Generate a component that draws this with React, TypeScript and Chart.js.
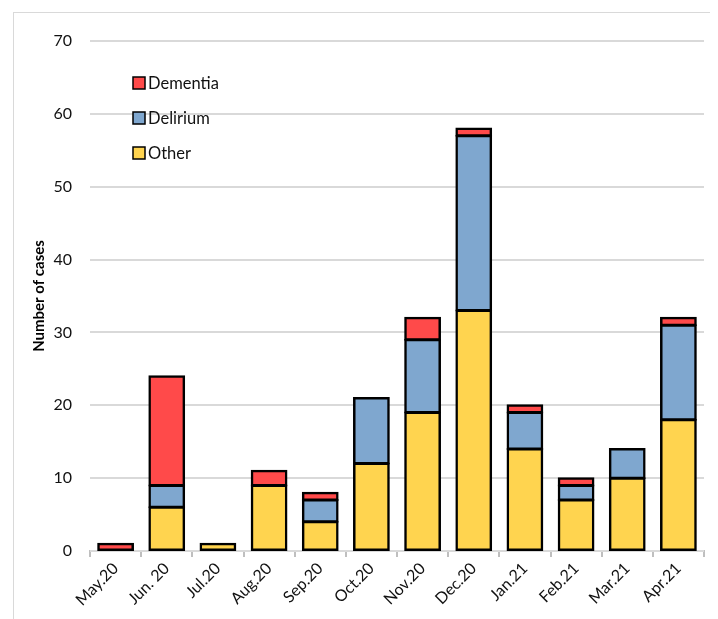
import React, { useEffect, useRef } from "react";
import { Chart, registerables } from "chart.js";

Chart.register(...registerables);

const categories = ["May.20", "Jun. 20", "Jul.20", "Aug.20", "Sep.20", "Oct.20", "Nov.20", "Dec.20", "Jan.21", "Feb.21", "Mar.21", "Apr.21"];
const otherValues = [0, 6, 1, 9, 4, 12, 19, 33, 14, 7, 10, 18];
const deliriumValues = [0, 3, 0, 0, 3, 9, 10, 24, 5, 2, 4, 13];
const dementiaValues = [1, 15, 0, 2, 1, 0, 3, 1, 1, 1, 0, 1];
const yTicks = [0, 10, 20, 30, 40, 50, 60, 70];

const FONT = "Lato, 'Liberation Sans', sans-serif";

const insideLegend = {
  id: "insideLegend",
  afterDraw(chart: any) {
    const ctx = chart.ctx;
    const area = chart.chartArea;
    const ds = [...chart.data.datasets].reverse();
    ctx.save();
    ds.forEach((d: any, i: number) => {
      const x = area.left + 43;
      const y = area.top + 42 + i * 35;
      ctx.fillStyle = d.backgroundColor;
      ctx.fillRect(x, y - 6, 12, 12);
      ctx.strokeStyle = "#000";
      ctx.lineWidth = 1.5;
      ctx.strokeRect(x, y - 6, 12, 12);
      ctx.fillStyle = "#111";
      ctx.font = `16.5px ${FONT}`;
      ctx.textBaseline = "middle";
      ctx.textAlign = "left";
      ctx.fillText(d.label, x + 15, y + 1);
    });
    ctx.restore();
  },
};

export default function App() {
  const ref = useRef<HTMLCanvasElement | null>(null);
  useEffect(() => {
    if (!ref.current) return;
    const mk = (label: string, data: number[], color: string) => ({
      label,
      data: data.map((v) => (v === 0 ? null : v)),
      backgroundColor: color,
      borderColor: "#000",
      borderWidth: 2.5,
      borderSkipped: false,
      inflateAmount: 1,
      barPercentage: 0.68,
      categoryPercentage: 1,
    });
    const chart = new Chart(ref.current, {
      type: "bar",
      data: {
        labels: categories,
        datasets: [
          mk("Other", otherValues, "#FFD44F"),
          mk("Delirium", deliriumValues, "#7FA7CF"),
          mk("Dementia", dementiaValues, "#FF4A4A"),
        ],
      },
      options: {
        animation: false,
        responsive: false,
        maintainAspectRatio: false,
        layout: { padding: { left: 16, right: 6, top: 28, bottom: 0 } },
        plugins: { legend: { display: false }, tooltip: { enabled: false } },
        scales: {
          x: {
            stacked: true,
            offset: true,
            grid: { drawOnChartArea: false, drawTicks: true, tickLength: 6, color: "#bfbfbf", offset: true, lineWidth: 2 },
            border: { display: true, color: "#bfbfbf", width: 2, z: -1 },
            ticks: { color: "#111", font: { size: 16, family: FONT }, maxRotation: 45, minRotation: 45, padding: 2 },
            afterFit(scale: any) { scale.height = 68; },
          },
          y: {
            stacked: true,
            min: 0,
            max: 70,
            afterBuildTicks(scale: any) { scale.ticks = yTicks.map((v) => ({ value: v })); },
            grid: { color: "#d9d9d9", lineWidth: 2, drawTicks: false },
            border: { display: false },
            ticks: { color: "#111", font: { size: 16, family: FONT }, padding: 18 },
            title: { display: true, text: "Number of cases", color: "#000", font: { size: 15, weight: "bold", family: FONT }, padding: 0 },
            afterFit(scale: any) { scale.width = 60; },
          },
        },
      },
      plugins: [insideLegend],
    });
    return () => chart.destroy();
  }, []);
  return (
    <div style={{ marginLeft: 5, marginTop: 4, width: 698, height: 620, border: "1px solid #d9d9d9", boxSizing: "border-box" }}>
      <canvas ref={ref} width={696} height={606} style={{ display: "block" }} />
    </div>
  );
}
